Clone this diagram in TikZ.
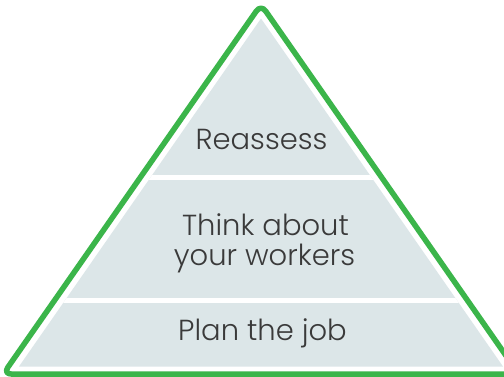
\documentclass[tikz,border=0pt]{standalone}
\usepackage{fontspec}
\setmainfont{Poppins Light}
\definecolor{pgreen}{RGB}{59,181,74}
\definecolor{pfill}{RGB}{220,230,232}
\definecolor{ptext}{RGB}{58,58,58}
\begin{document}
\begin{tikzpicture}[x=1pt,y=-1pt,
  lbl/.style={font=\fontsize{29}{31}\selectfont, text=ptext, anchor=base, inner sep=0pt},
  sep/.style={white, line width=5pt},
  outline/.style={pgreen, line width=5.5pt, rounded corners=8pt, line join=round}]
\clip (0,0) rectangle (504,376);
\fill[white] (0,0) rectangle (504,376);
% filled pyramid
\coordinate (fa) at (261,18.5);
\coordinate (fl) at (19,366.5);
\coordinate (fr) at (503,366.5);
\fill[pfill] (fa) -- (fl) -- (fr) -- cycle;
\begin{scope}
  \clip (fa) -- (fl) -- (fr) -- cycle;
  \draw[sep] (0,177.5) -- (504,177.5);
  \draw[sep] (0,300.8) -- (504,300.8);
\end{scope}
% green outline
\coordinate (ga) at (261,4.4);
\coordinate (gl) at (3.2,374);
\coordinate (gr) at (518.8,374);
\draw[outline] (261,374) -- (gl) -- (ga) -- (gr) -- cycle;
% labels
\node[lbl] (rea) at (261.5,149) {Reassess};
\node[lbl] (thk) at (265.5,235) {Think about};
\node[lbl] (yw) at (264.5,265) {your workers};
\node[lbl] (plan) at (262.5,340) {Plan the job};
\end{tikzpicture}
\end{document}
